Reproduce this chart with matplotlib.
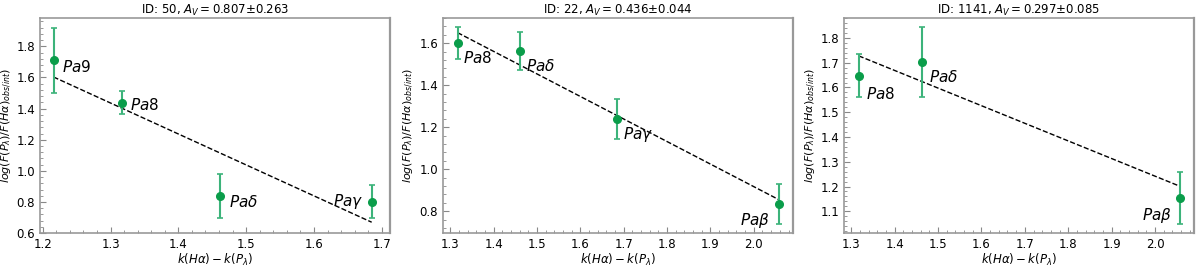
import numpy as np
import matplotlib
matplotlib.use('Agg')
import matplotlib.pyplot as plt
from matplotlib.ticker import AutoMinorLocator

# k(Ha) - k(P_lambda) for each Paschen line
K_PA9 = 1.216
K_PA8 = 1.317
K_PAD = 1.462
K_PAG = 1.685
K_PAB = 2.057

ids = ["50", "22", "1141"]
av_vals = ["0.807", "0.436", "0.297"]
av_errs = ["0.263", "0.044", "0.085"]

# panel 1: ID 50
lines_50 = [r"$Pa9$", r"$Pa8$", r"$Pa\delta$", r"$Pa\gamma$"]
x_50 = [K_PA9, K_PA8, K_PAD, K_PAG]
y_50 = [1.71, 1.438, 0.836, 0.80]
err_50 = [0.207, 0.073, 0.141, 0.106]
fit_50 = (-1.99, 4.023)  # slope, intercept

# panel 2: ID 22
lines_22 = [r"$Pa8$", r"$Pa\delta$", r"$Pa\gamma$", r"$Pa\beta$"]
x_22 = [K_PA8, K_PAD, K_PAG, K_PAB]
y_22 = [1.60, 1.563, 1.24, 0.833]
err_22 = [0.075, 0.091, 0.095, 0.096]
fit_22 = (-1.073, 3.063)

# panel 3: ID 1141
lines_1141 = [r"$Pa8$", r"$Pa\delta$", r"$Pa\beta$"]
x_1141 = [K_PA8, K_PAD, K_PAB]
y_1141 = [1.647, 1.703, 1.152]
err_1141 = [0.087, 0.14, 0.105]
fit_1141 = (-0.711, 2.664)

# label offsets in points (dx, dy)
offs_50 = [(6, -5), (6, -2), (6, -4), (-6, 0)]
offs_22 = [(4, -11), (4, -11), (4, -11), (-6, -12)]
offs_1141 = [(5, -13), (5, -11), (-6, -12)]

xlims = [(1.196, 1.712), (1.283, 2.09), (1.283, 2.09)]
ylims = [(0.6, 1.983), (0.696, 1.72), (1.012, 1.881)]
x_major = [0.1, 0.1, 0.1]
y_major = [0.2, 0.2, 0.1]

panels = [
    (lines_50, x_50, y_50, err_50, fit_50, offs_50),
    (lines_22, x_22, y_22, err_22, fit_22, offs_22),
    (lines_1141, x_1141, y_1141, err_1141, fit_1141, offs_1141),
]

fig = plt.figure(figsize=(12, 2.67), dpi=100)
lefts = [0.0333, 0.369, 0.7033]

for i, (names, x, y, err, fit, offs) in enumerate(panels):
    ax = fig.add_axes([lefts[i], 0.127, 0.2917, 0.806])
    ax.errorbar(x, y, yerr=err, fmt='none', ecolor='#3cb37a', elinewidth=1.5,
                capsize=2.5, capthick=1.2, zorder=2)
    ax.plot(x, y, 'o', color='#0a9d4a', ms=5.5, zorder=3)
    xx = np.array([x[0], x[-1]])
    ax.plot(xx, fit[0] * xx + fit[1], '--', color='black', lw=1, zorder=1)
    for name, xi, yi, (dx, dy) in zip(names, x, y, offs):
        ax.annotate(name, (xi, yi), xytext=(dx, dy), textcoords='offset points',
                    fontsize=11, ha='left' if dx > 0 else 'right', va='center')
    ax.set_xlim(*xlims[i])
    ax.set_ylim(*ylims[i])
    ax.xaxis.set_major_locator(plt.MultipleLocator(x_major[i]))
    ax.yaxis.set_major_locator(plt.MultipleLocator(y_major[i]))
    ax.xaxis.set_minor_locator(AutoMinorLocator(5))
    ax.yaxis.set_minor_locator(AutoMinorLocator(5))
    ax.tick_params(which='both', direction='in', colors='#888888', labelcolor='black',
                   labelsize=8.5, top=False, right=False)
    ax.tick_params(which='major', length=4)
    ax.tick_params(which='minor', length=2)
    for sp in ax.spines.values():
        sp.set_color('#999999')
        sp.set_linewidth(1.2)
    ax.spines['right'].set_linewidth(1.6)
    ax.set_xlabel(r'$k(H\alpha)-k(P_\lambda)$', fontsize=8.5, labelpad=1)
    ax.set_ylabel(r'$log(F(P_\lambda)/F(H\alpha)_{obs/int})$', fontsize=8, labelpad=2)
    ax.set_title(r'ID: %s, $A_V = $%s$\pm$%s' % (ids[i], av_vals[i], av_errs[i]),
                 fontsize=8.5, pad=3)

fig.savefig('out.png', dpi=100)
